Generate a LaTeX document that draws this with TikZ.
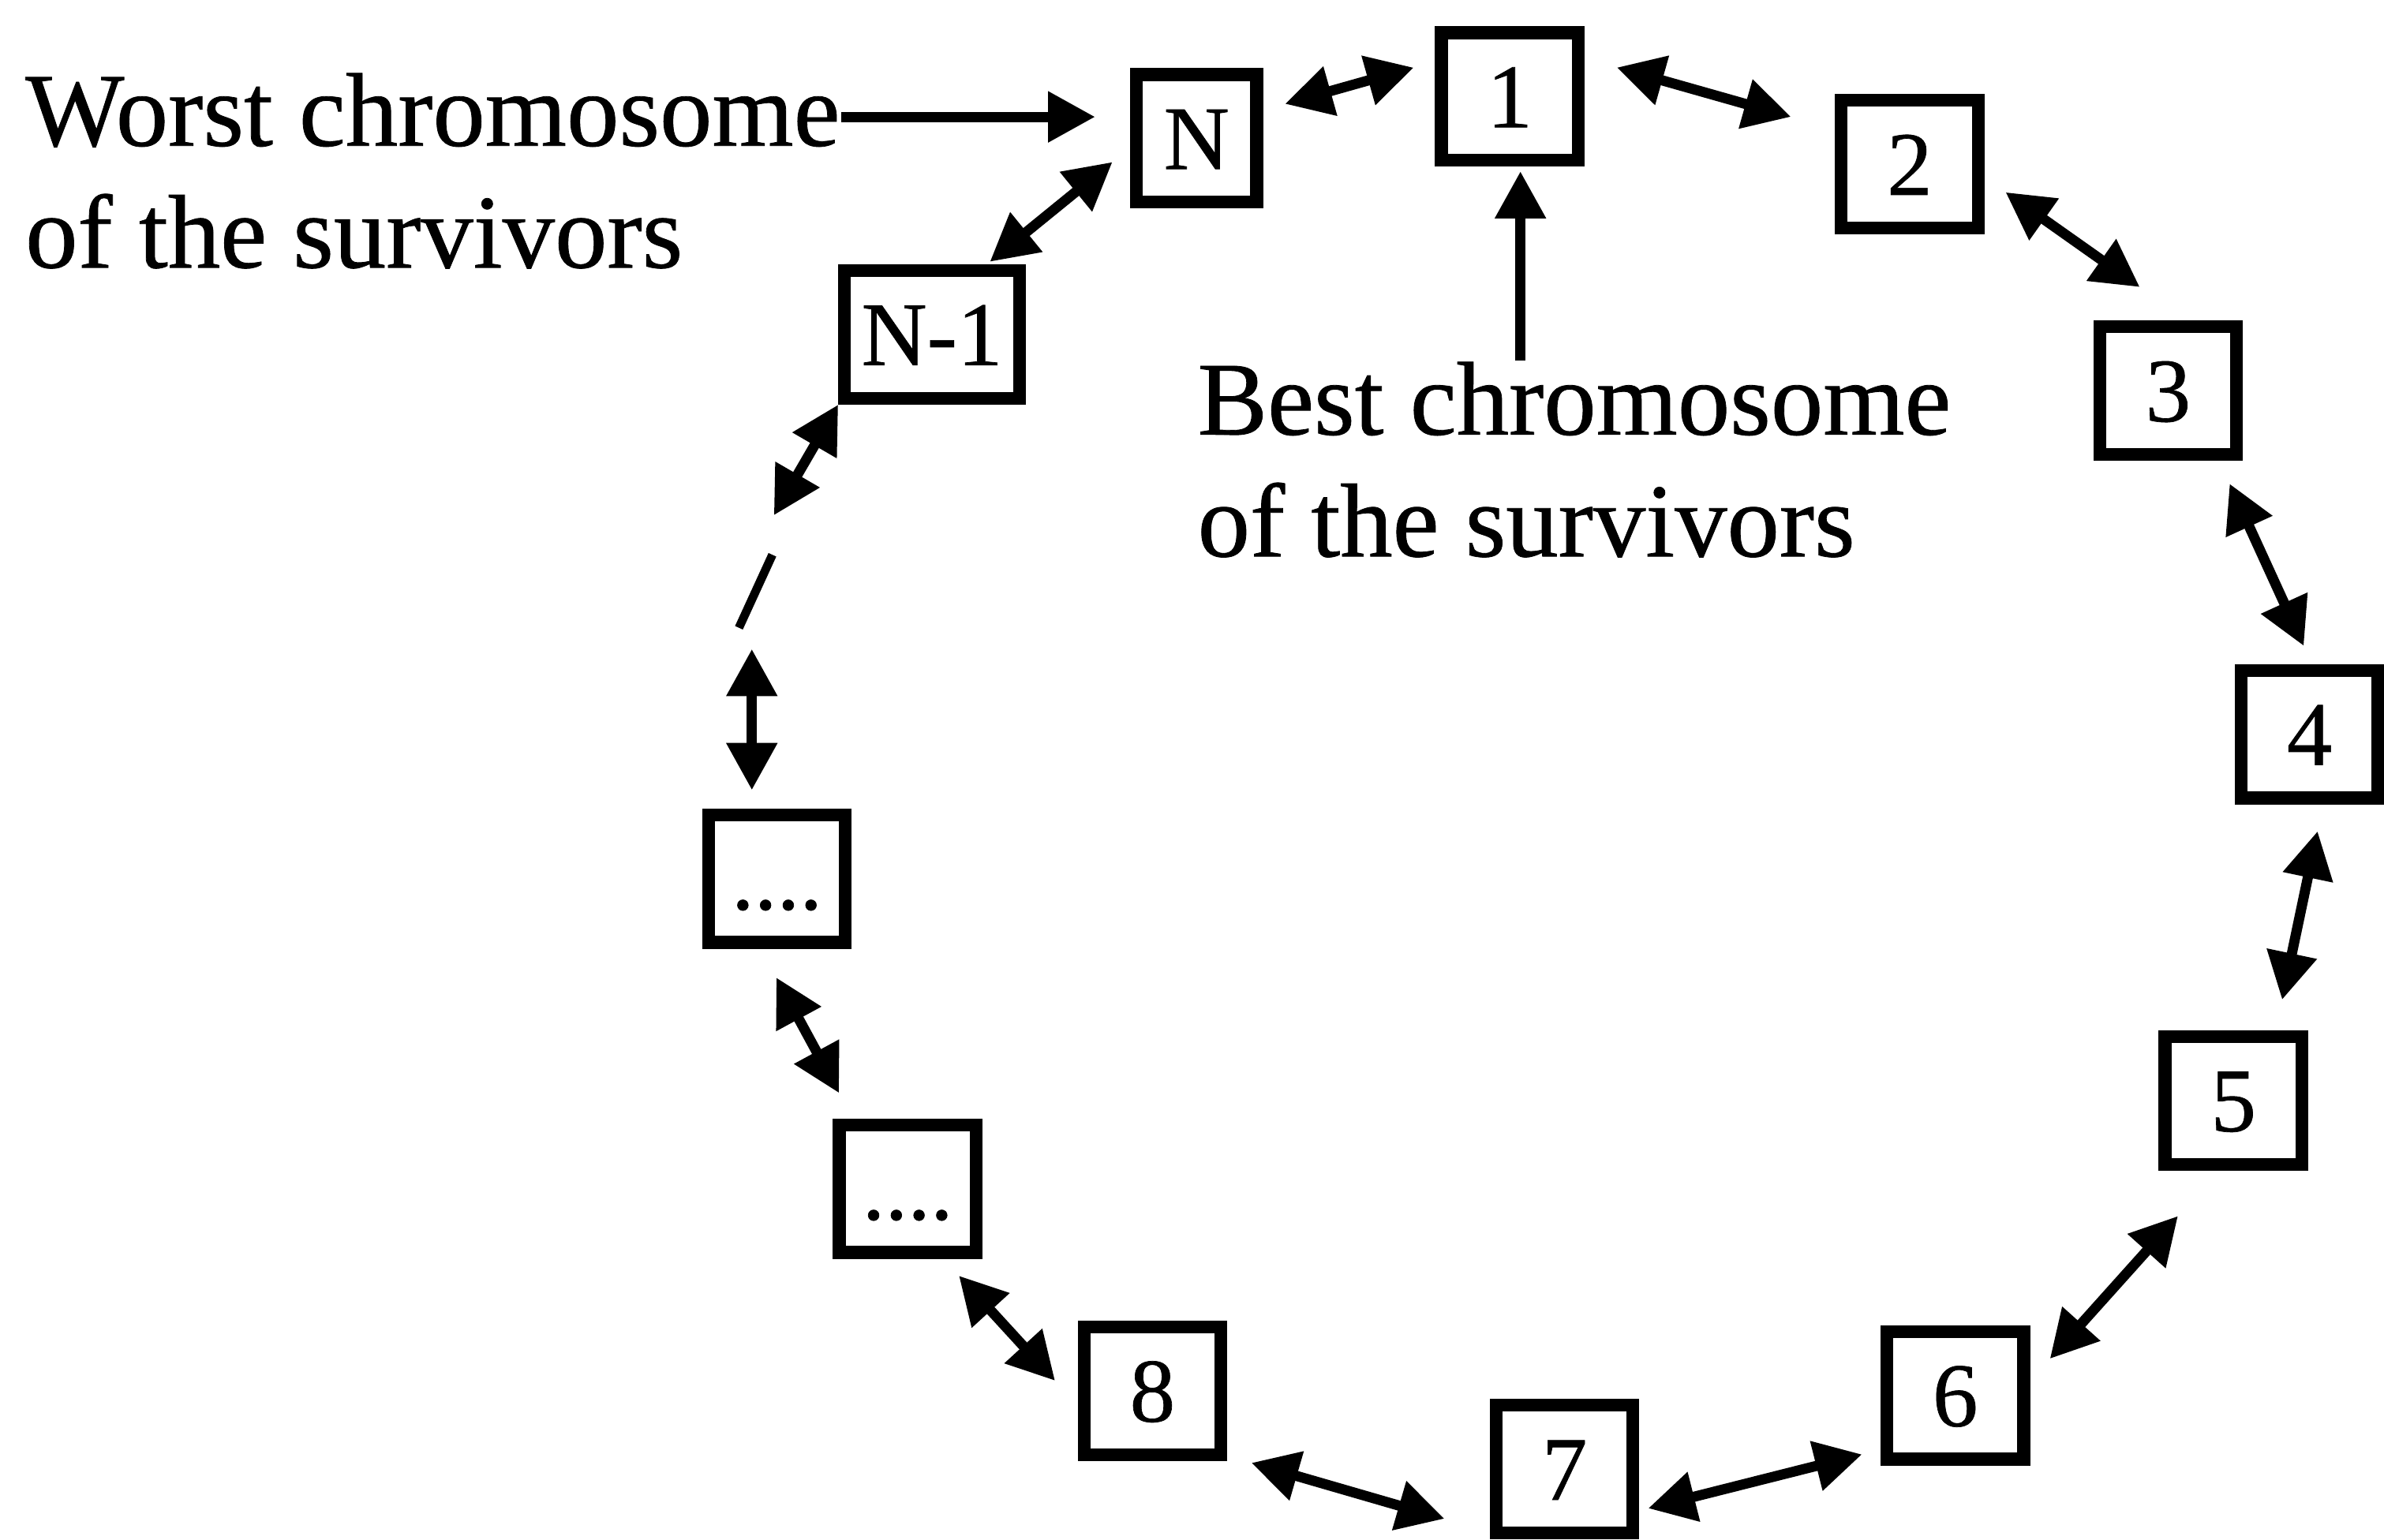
\documentclass[tikz,border=0pt]{standalone}
\usepackage{fontspec}
\setmainfont{Liberation Serif}[BoldFont=Liberation Serif,BoldFeatures={FakeBold=0.6}]
\usetikzlibrary{arrows.meta}

\begin{document}
\begin{tikzpicture}[x=1cm,y=1cm,
  chrom/.style={draw,line width=2.4pt,minimum width=0.90cm,minimum height=0.84cm,inner sep=0pt,
    font=\fontsize{17}{20}\selectfont\bfseries,text height=11.5pt,text depth=0pt},
  link/.style={line width=1.9pt,{Triangle[length=3.1mm,width=3.2mm]}-{Triangle[length=3.1mm,width=3.2mm]}},
  pointer/.style={line width=1.9pt,-{Triangle[length=3.1mm,width=3.2mm]}},
  note/.style={align=left,inner sep=0pt,font=\fontsize{19.6}{22.8}\selectfont\bfseries}]
\path[use as bounding box] (0,0) rectangle (15.68,10.13);
\node[chrom,minimum width=0.79cm] (N) at (7.87,9.22) {N};
\node[chrom] (one) at (9.93,9.495) {1};
\node[chrom] (two) at (12.56,9.05) {2};
\node[chrom] (three) at (14.26,7.56) {3};
\node[chrom] (four) at (15.19,5.30) {4};
\node[chrom] (five) at (14.69,2.89) {5};
\node[chrom] (six) at (12.86,0.95) {6};
\node[chrom] (seven) at (10.29,0.465) {7};
\node[chrom] (eight) at (7.58,0.98) {8};
\node[chrom] (dotsB) at (5.97,2.31) {....};
\node[chrom] (dotsA) at (5.11,4.35) {....};
\node[chrom,minimum width=1.15cm] (Nm) at (6.13,7.93) {N-1};
\coordinate (gapA) at (5.09,6.74);
\coordinate (cutA) at (5.08,6.48);
\coordinate (cutB) at (4.86,6.00);
\coordinate (gapB) at (4.945,5.86);
\draw[link,shorten <=1.5mm,shorten >=1.45mm] (N.23.7) -- (one.155.5);
\draw[link,shorten <=2.2mm,shorten >=3.0mm] (one.27.5) -- (two.155.1);
\draw[link,shorten <=1.7mm,shorten >=3.8mm] (two.-10.5) -- (three.75.1);
\draw[link,shorten <=1.65mm,shorten >=1.3mm] (three.-54.3) -- (four.88.1);
\draw[link,shorten <=1.8mm,shorten >=2.05mm] (four.-79) -- (five.59.9);
\draw[link,shorten <=4.0mm,shorten >=1.95mm] (five.-102.5) -- (six.11);
\draw[link,shorten <=1.25mm,shorten >=0.6mm] (six.-144.6) -- (seven.-29.8);
\draw[link,shorten <=3.1mm,shorten >=1.65mm] (seven.-140.9) -- (eight.-41.7);
\draw[link,shorten <=2.2mm,shorten >=1.5mm] (eight.-169.4) -- (dotsB.-63.6);
\draw[link,shorten <=1.9mm,shorten >=2.15mm] (dotsB.128.7) -- (dotsA.-103.8);
\draw[link,shorten >=1.2mm] (gapB) -- (gapB |- dotsA.north);
\draw[line width=1.6pt] (cutA) -- (cutB);
\draw[link] (Nm.south west) -- (gapA);
\draw[link,shorten <=1.5mm,shorten >=0.25mm] (N.-172.5) -- (Nm.52.9);
\node[note,anchor=north west] (worst) at (0.16,9.656) {Worst chromosome\\of the survivors};
\node[note,anchor=north west] (best) at (7.87,7.756) {Best chromosome\\of the survivors};
\coordinate (wtail) at ([yshift=-2.95mm]worst.north east);
\draw[pointer,shorten >=2.3mm] (wtail) -- (wtail -| N.west);
\coordinate (bestup) at ([xshift=0.7mm]one.south);
\draw[pointer,shorten >=0.3mm] (best.north -| bestup) -- (bestup);
\end{tikzpicture}
\end{document}
